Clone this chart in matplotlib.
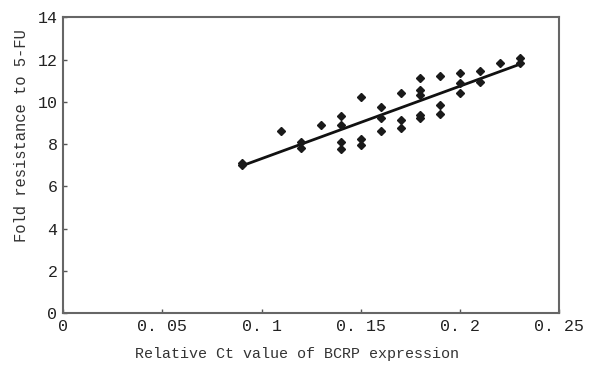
import numpy as np
import matplotlib
matplotlib.use("Agg")
import matplotlib.pyplot as plt

# relative Ct value of BCRP expression vs fold resistance to 5-FU
ct_value = [0.09, 0.09, 0.11, 0.12, 0.12, 0.13,
            0.14, 0.14, 0.14, 0.14, 0.15, 0.15, 0.15,
            0.16, 0.16, 0.16, 0.17, 0.17, 0.17,
            0.18, 0.18, 0.18, 0.18, 0.18, 0.19, 0.19, 0.19,
            0.20, 0.20, 0.20, 0.21, 0.21, 0.22, 0.23, 0.23]
fold_res = [7.0, 7.1, 8.64, 8.12, 7.8, 8.9,
            9.34, 8.91, 8.12, 7.77, 10.22, 8.23, 7.96,
            9.75, 9.23, 8.64, 10.41, 9.15, 8.75,
            11.12, 10.57, 10.33, 9.38, 9.23, 11.23, 9.86, 9.43,
            11.36, 10.91, 10.41, 11.48, 10.96, 11.83, 12.07, 11.86]
x_ticks = [0, 0.05, 0.1, 0.15, 0.2, 0.25]
x_tick_labels = ["0", "0. 05", "0. 1", "0. 15", "0. 2", "0. 25"]
y_ticks = [0, 2, 4, 6, 8, 10, 12, 14]

plt.rcParams["font.family"] = ["Liberation Mono", "DejaVu Sans Mono"]

fig = plt.figure(figsize=(5.9, 3.69), dpi=100)
ax = fig.add_axes([0.1068, 0.1518, 0.8415, 0.8008])

x = np.asarray(ct_value)
y = np.asarray(fold_res)
slope, icept = np.polyfit(x, y, 1)
xl = np.array([x.min(), x.max()])
ax.plot(xl, slope * xl + icept, color="#111111", lw=2.0, zorder=2)
ax.plot(x, y, "D", color="#1a1a1a", markersize=4.2, zorder=3)

ax.set_xlim(0, 0.25)
ax.set_ylim(0, 14)
ax.set_xticks(x_ticks)
ax.set_xticklabels(x_tick_labels)
ax.set_yticks(y_ticks)
ax.tick_params(direction="in", length=3, width=1, color="#555555",
               labelsize=12, labelcolor="#222222", pad=4)
for s in ax.spines.values():
    s.set_color("#666666")
    s.set_linewidth(1.5)

ax.set_xlabel("Relative Ct value of BCRP expression", fontsize=10.8,
              color="#333333", labelpad=10, x=0.471)
ax.set_ylabel("Fold resistance to 5-FU", fontsize=11.2,
              color="#333333", labelpad=6, y=0.6)

fig.savefig("out.png", dpi=100)
